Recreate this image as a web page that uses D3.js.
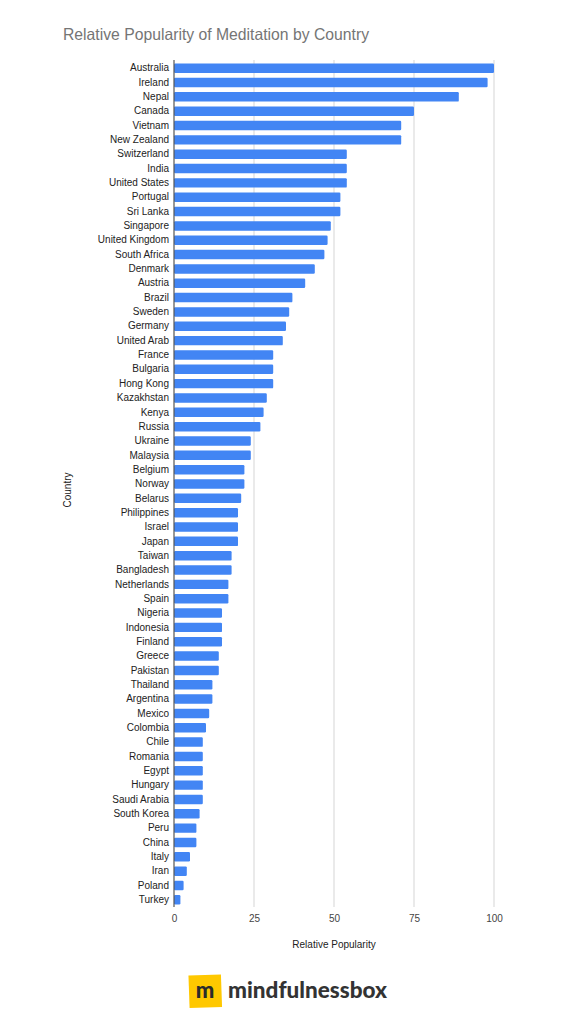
<!DOCTYPE html>
<html>
<head>
<meta charset="utf-8">
<script src="https://cdn.jsdelivr.net/npm/d3@7"></script>
<style>
  html, body { margin: 0; padding: 0; background: #fff; }
  svg { display: block; }
</style>
</head>
<body>
<div id="chart"></div>
<script>
const countries = ["Australia","Ireland","Nepal","Canada","Vietnam","New Zealand","Switzerland","India","United States","Portugal","Sri Lanka","Singapore","United Kingdom","South Africa","Denmark","Austria","Brazil","Sweden","Germany","United Arab","France","Bulgaria","Hong Kong","Kazakhstan","Kenya","Russia","Ukraine","Malaysia","Belgium","Norway","Belarus","Philippines","Israel","Japan","Taiwan","Bangladesh","Netherlands","Spain","Nigeria","Indonesia","Finland","Greece","Pakistan","Thailand","Argentina","Mexico","Colombia","Chile","Romania","Egypt","Hungary","Saudi Arabia","South Korea","Peru","China","Italy","Iran","Poland","Turkey"];
const popularity = [100,98,89,75,71,71,54,54,54,52,52,49,48,47,44,41,37,36,35,34,31,31,31,29,28,27,24,24,22,22,21,20,20,20,18,18,17,17,15,15,15,14,14,12,12,11,10,9,9,9,9,9,8,7,7,5,4,3,2];
const xTicks = [0,25,50,75,100];
const titleText = "Relative Popularity of Meditation by Country";
const xTitle = "Relative Popularity";
const yTitle = "Country";
const brand = "mindfulnessbox";

const W = 576, H = 1024;
const FONT = "'Liberation Sans', Arial, sans-serif";
const svg = d3.select("#chart").append("svg").attr("width", W).attr("height", H);

const x = d3.scaleLinear().domain([0, 100]).range([174, 494]);
const y = d3.scaleBand().domain(countries).range([61, 907]).paddingInner(0.34).paddingOuter(0.17);

// title
svg.append("text").attr("x", 63).attr("y", 39.5)
  .attr("font-family", FONT).attr("font-size", 16.5).attr("fill", "#757575")
  .attr("textLength", 306).attr("lengthAdjust", "spacingAndGlyphs")
  .text(titleText);

// gridlines
svg.append("g").selectAll("line").data(xTicks.filter(d => d > 0)).join("line")
  .attr("x1", d => x(d)).attr("x2", d => x(d))
  .attr("y1", 60).attr("y2", 907)
  .attr("stroke", "#dcdcdc").attr("stroke-width", 1.2);

// bars
svg.append("g").selectAll("rect").data(countries).join("rect")
  .attr("x", x(0))
  .attr("y", d => y(d))
  .attr("width", (d, i) => x(popularity[i]) - x(0))
  .attr("height", y.bandwidth())
  .attr("rx", 1.2)
  .attr("fill", "#4285f4");

// zero axis line
svg.append("line").attr("x1", x(0)).attr("x2", x(0)).attr("y1", 60).attr("y2", 907)
  .attr("stroke", "#555").attr("stroke-width", 1.2);

// y axis labels
const yAxis = d3.axisLeft(y).tickSize(0).tickPadding(5);
const gy = svg.append("g").attr("transform", `translate(${x(0)},0)`).call(yAxis);
gy.select(".domain").remove();
gy.selectAll("text").attr("font-family", FONT).attr("font-size", 10).attr("fill", "#222");

// x axis labels
const xAxis = d3.axisBottom(x).tickValues(xTicks).tickSize(0).tickPadding(0).tickFormat(d3.format("d"));
const gx = svg.append("g").attr("transform", `translate(0,915)`).call(xAxis);
gx.select(".domain").remove();
gx.selectAll("text").attr("font-family", FONT).attr("font-size", 10).attr("fill", "#444");

// axis titles
svg.append("text").attr("x", x(50)).attr("y", 948).attr("text-anchor", "middle")
  .attr("font-family", FONT).attr("font-size", 10).attr("fill", "#222").text(xTitle);
svg.append("text").attr("transform", "translate(71,490) rotate(-90)").attr("text-anchor", "middle")
  .attr("font-family", FONT).attr("font-size", 10).attr("fill", "#222").text(yTitle);

// brand logo
const logo = svg.append("g");
logo.append("rect").attr("x", 189).attr("y", 975).attr("width", 32.5).attr("height", 32.5)
  .attr("fill", "#ffc800")
  .attr("transform", "rotate(-2 205 991)");
logo.append("text").attr("x", 205).attr("y", 998).attr("text-anchor", "middle")
  .attr("font-family", "Lato, 'DejaVu Sans', sans-serif").attr("font-weight", 900)
  .attr("font-size", 22).attr("fill", "#2b2b2b").text("m");
logo.append("text").attr("x", 228).attr("y", 998)
  .attr("font-family", "Lato, 'DejaVu Sans', sans-serif").attr("font-weight", 900)
  .attr("font-size", 22).attr("fill", "#333")
  .attr("textLength", 159).attr("lengthAdjust", "spacingAndGlyphs")
  .text(brand);
</script>
</body>
</html>
